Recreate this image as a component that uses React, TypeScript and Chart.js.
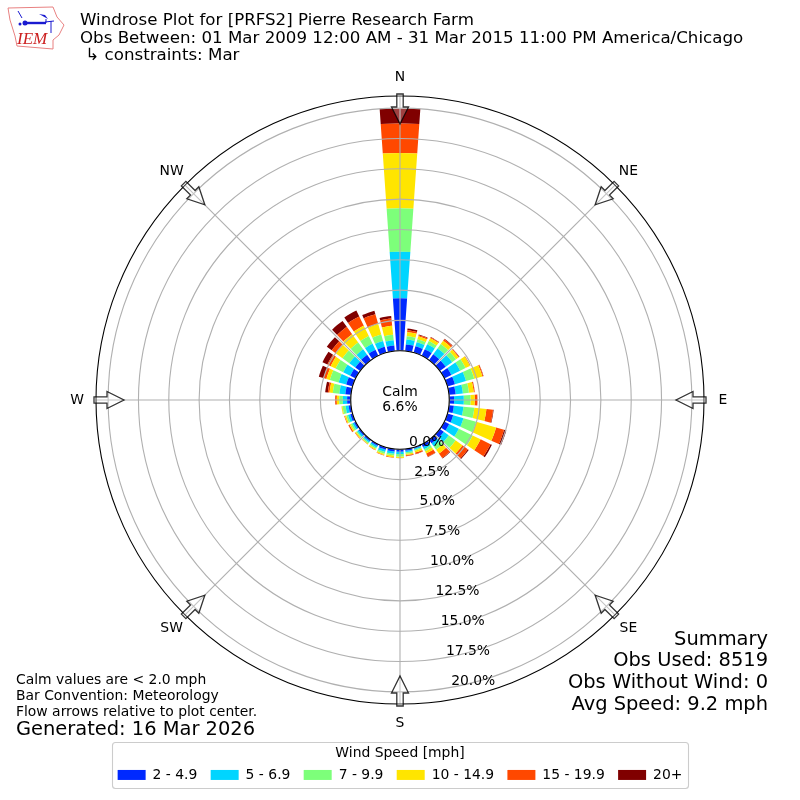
import React, { useEffect, useRef } from "react";
import { Chart, registerables, PolarAreaController } from "chart.js";

Chart.register(...registerables);

const FONT = "'DejaVu Sans'";

const directions = [0, 10, 20, 30, 40, 50, 60, 70, 80, 90, 100, 110, 120, 130, 140, 150, 160, 170, 180, 190, 200, 210, 220, 230, 240, 250, 260, 270, 280, 290, 300, 310, 320, 330, 340, 350];
const speed2to5 = [4.32, .55, .55, .6, .6, .6, .65, .65, .55, .4, .4, .5, .45, .4, .35, .25, .1, .15, .2, .2, .2, .15, .15, .15, .15, .2, .2, .3, .47, .55, .5, .5, .55, .55, .5, .45];
const speed5to7 = [3.85, .41, .35, .45, .6, .65, .8, .95, .6, .8, .8, .88, .88, .5, .3, .2, .1, .12, .2, .2, .2, .15, .12, .15, .15, .2, .25, .35, .49, .65, .65, .6, .55, .55, .5, .45];
const speed7to10 = [3.57, .27, .25, .3, .45, .4, .5, .7, .5, .55, .9, 1.09, 1.27, .7, .35, .2, .1, .12, .2, .15, .15, .12, .1, .1, .15, .15, .25, .3, .55, .75, .7, .7, .7, .7, .55, .45];
const speed10to15 = [4.56, .33, .25, .25, .33, .25, .4, .7, .4, .35, 1.0, 1.71, .73, .7, .4, .2, .15, .12, .12, .13, .1, .1, .07, .1, .12, .12, .08, .2, .27, .3, .45, .7, .85, .95, .9, .75];
const speed15to20 = [2.44, .16, .1, .08, .15, .07, .03, .08, .08, .22, .55, .68, .91, .55, .45, .3, .12, .07, .02, .05, .05, .03, .03, .05, .1, .05, .01, .13, .14, .25, .3, .4, .75, .85, .85, .6];
const speed20plus = [1.26, .14, .05, .03, .05, .03, .02, .02, .01, .01, .05, .2, .13, .09, .05, .03, .02, .02, 0, 0, 0, 0, 0, 0, .01, 0, 0, .02, .22, .4, .45, .5, .6, .55, .3, .2];

const speedLabels = ["2 - 4.9", "5 - 6.9", "7 - 9.9", "10 - 14.9", "15 - 19.9", "20+"];
const speedColors = ["#0029ff", "#00d5ff", "#7dff7a", "#ffe500", "#ff4800", "#800000"];
const speedSeries = [speed2to5, speed5to7, speed7to10, speed10to15, speed15to20, speed20plus];

const radialTicks = [0, 2.5, 5, 7.5, 10, 12.5, 15, 17.5, 20];
const radialTickLabels = ["0.0%", "2.5%", "5.0%", "7.5%", "10.0%", "12.5%", "15.0%", "17.5%", "20.0%"];
const compassAngles = [0, 45, 90, 135, 180, 225, 270, 315];
const compassLabels = ["N", "NE", "E", "SE", "S", "SW", "W", "NW"];

const titleLines = [
  "Windrose Plot for [PRFS2] Pierre Research Farm",
  "Obs Between: 01 Mar 2009 12:00 AM - 31 Mar 2015 11:00 PM America/Chicago",
  " \u21b3 constraints: Mar",
];
const summaryLines = ["Summary", "Obs Used: 8519", "Obs Without Wind: 0", "Avg Speed: 9.2 mph"];
const noteLines = ["Calm values are < 2.0 mph", "Bar Convention: Meteorology", "Flow arrows relative to plot center."];
const generatedLine = "Generated: 16 Mar 2026";
const calmLines = ["Calm", "6.6%"];

const BAR_DEG = 8;
const GAP_DEG = 2;

const labels: string[] = [];
directions.forEach((d) => labels.push(String(d), String(d) + " gap"));

// Top edge of one speed class in every direction, each direction followed by its empty gap slot.
function cumulative(level: number): number[] {
  const out: number[] = [];
  directions.forEach((_, i) => {
    let sum = 0;
    for (let s = 0; s <= level; s++) sum += speedSeries[s][i];
    out.push(sum, 0);
  });
  return out;
}

// Polar area whose arcs start at the top of the class below, not at the centre.
class StackedPolarController extends (PolarAreaController as any) {
  static id = "stackedPolar";
  updateElements(arcs: any[], start: number, count: number, mode: any) {
    (PolarAreaController.prototype as any).updateElements.call(this, arcs, start, count, mode);
    const me = this as any;
    const scale = me._cachedMeta.rScale;
    const base: number[] = me.getDataset().base;
    for (let i = start; i < start + count; i++) {
      arcs[i].innerRadius = scale.getDistanceFromCenterForValue(base[i]);
    }
  }
}
Chart.register(StackedPolarController as any);

function text(ctx: CanvasRenderingContext2D, s: string, x: number, y: number, size: number, align: CanvasTextAlign = "left", baseline: CanvasTextBaseline = "middle", font = FONT) {
  ctx.font = `${size}px ${font}`;
  ctx.textAlign = align;
  ctx.textBaseline = baseline;
  ctx.fillStyle = "#000";
  ctx.fillText(s, x, y);
}

function drawLogo(ctx: CanvasRenderingContext2D) {
  ctx.save();
  ctx.strokeStyle = "#e88080";
  ctx.lineWidth = 1;
  ctx.beginPath();
  const outline = [[8, 8], [53, 7], [57, 17], [64, 25], [59, 35], [53, 40], [53, 49], [17, 46], [15, 36], [10, 20]];
  outline.forEach(([x, y], i) => (i ? ctx.lineTo(x, y) : ctx.moveTo(x, y)));
  ctx.closePath();
  ctx.stroke();
  ctx.strokeStyle = "#1a1ad0";
  ctx.fillStyle = "#1a1ad0";
  ctx.lineWidth = 2.4;
  ctx.beginPath();
  ctx.moveTo(26, 23);
  ctx.lineTo(46, 23);
  ctx.stroke();
  ctx.lineWidth = 1;
  ctx.beginPath();
  ctx.moveTo(18, 11);
  ctx.lineTo(22, 18);
  ctx.moveTo(45, 22);
  ctx.lineTo(54, 21);
  ctx.moveTo(46, 23);
  ctx.lineTo(46, 19);
  ctx.moveTo(51, 21);
  ctx.lineTo(51, 33);
  ctx.stroke();
  ctx.beginPath();
  ctx.moveTo(39, 14);
  ctx.lineTo(45, 15);
  ctx.lineTo(48, 19);
  ctx.closePath();
  ctx.fill();
  ctx.beginPath();
  ctx.arc(25, 23, 2.5, 0, Math.PI * 2);
  ctx.fill();
  ctx.beginPath();
  ctx.arc(20, 24, 1.5, 0, Math.PI * 2);
  ctx.fill();
  ctx.restore();
  ctx.font = "italic 17px 'Liberation Serif'";
  ctx.textAlign = "left";
  ctx.textBaseline = "alphabetic";
  ctx.fillStyle = "#cc2020";
  ctx.fillText("IEM", 17, 44);
}

const windrosePlugin = {
  id: "windrose",
  afterDatasetsDraw(chart: any) {
    const scale = chart.scales.r;
    const ctx: CanvasRenderingContext2D = chart.ctx;
    const outer = scale.drawingArea;
    ctx.save();
    ctx.strokeStyle = "#b0b0b0";
    ctx.lineWidth = 1.1;
    compassAngles.forEach((deg) => {
      const a = (deg * Math.PI) / 180;
      ctx.beginPath();
      ctx.moveTo(scale.xCenter, scale.yCenter);
      ctx.lineTo(scale.xCenter + Math.sin(a) * outer, scale.yCenter - Math.cos(a) * outer);
      ctx.stroke();
    });
    ctx.restore();
  },
  afterDraw(chart: any) {
    const scale = chart.scales.r;
    const ctx: CanvasRenderingContext2D = chart.ctx;
    const cx = scale.xCenter;
    const cy = scale.yCenter;
    const outer = scale.drawingArea;
    const base = scale.getDistanceFromCenterForValue(0);

    ctx.save();
    ctx.fillStyle = "#fff";
    ctx.strokeStyle = "#000";
    ctx.lineWidth = 1.1;
    ctx.beginPath();
    ctx.arc(cx, cy, base, 0, Math.PI * 2);
    ctx.fill();
    ctx.stroke();
    ctx.beginPath();
    ctx.arc(cx, cy, outer, 0, Math.PI * 2);
    ctx.stroke();

    // flow arrows
    compassAngles.forEach((deg) => {
      ctx.save();
      ctx.translate(cx, cy);
      ctx.rotate((deg * Math.PI) / 180);
      const r0 = outer + 2;
      const r1 = outer - 11;
      const r2 = outer - 28;
      ctx.beginPath();
      ctx.moveTo(-3.2, -r0);
      ctx.lineTo(3.2, -r0);
      ctx.lineTo(3.2, -r1);
      ctx.lineTo(8.5, -r1);
      ctx.lineTo(0, -r2);
      ctx.lineTo(-8.5, -r1);
      ctx.lineTo(-3.2, -r1);
      ctx.closePath();
      ctx.fillStyle = "rgba(255,255,255,0.25)";
      ctx.fill();
      ctx.strokeStyle = "rgba(0,0,0,0.8)";
      ctx.lineWidth = 1.3;
      ctx.stroke();
      ctx.restore();
    });

    // compass labels
    compassAngles.forEach((deg, i) => {
      const a = (deg * Math.PI) / 180;
      const r = outer + 19;
      text(ctx, compassLabels[i], cx + Math.sin(a) * r, cy - Math.cos(a) * r, 13.9, "center");
    });

    // radial tick labels
    const tickA = (170 * Math.PI) / 180;
    radialTicks.forEach((v, i) => {
      const r = scale.getDistanceFromCenterForValue(v);
      text(ctx, radialTickLabels[i], cx + Math.sin(tickA) * r + 0.5, cy - Math.cos(tickA) * r + 0.6, 13.9, "left", "bottom");
    });

    text(ctx, calmLines[0], cx, cy - 7.5, 13.9, "center");
    text(ctx, calmLines[1], cx, cy + 7.5, 13.9, "center");

    titleLines.forEach((s, i) => text(ctx, s, 80, [21, 39, 56][i], 16.67));
    summaryLines.forEach((s, i) => text(ctx, s, 768, [640, 661, 683, 705][i], 19.44, "right"));
    noteLines.forEach((s, i) => text(ctx, s, 16, [680, 696, 712][i], 13.9));
    text(ctx, generatedLine, 16, 730, 19.44);

    // legend frame
    ctx.strokeStyle = "#cccccc";
    ctx.lineWidth = 1.1;
    ctx.beginPath();
    ctx.roundRect(112.5, 742.5, 576, 46, 3);
    ctx.stroke();
    ctx.restore();

    drawLogo(ctx);
  },
};

export default function App() {
  const ref = useRef<HTMLCanvasElement | null>(null);
  useEffect(() => {
    if (!ref.current) return;
    Chart.defaults.font.family = FONT;
    const chart = new Chart(ref.current, {
      type: "stackedPolar",
      data: {
        labels,
        datasets: speedLabels.map((label, level) => ({
          label,
          data: cumulative(level),
          base: level === 0 ? labels.map(() => 0) : cumulative(level - 1),
          backgroundColor: speedColors[level],
          borderWidth: 0,
          angle: labels.map((_, i) => (i % 2 === 0 ? BAR_DEG : GAP_DEG)),
        })),
      } as any,
      options: {
        responsive: false,
        animation: false,
        devicePixelRatio: 1,
        layout: { padding: { top: 96, left: 0, right: 0, bottom: 8.1 } },
        scales: {
          r: {
            type: "radialLinear",
            min: -4.06,
            max: 21.0,
            startAngle: -BAR_DEG / 2,
            afterBuildTicks: (axis: any) => {
              axis.ticks = radialTicks.map((value) => ({ value }));
            },
            ticks: { display: false, stepSize: 2.5 },
            grid: { color: "#b0b0b0", lineWidth: 1.1, circular: true, z: 1 },
            angleLines: { display: false },
            pointLabels: { display: false },
          },
        },
        plugins: {
          tooltip: { enabled: false },
          legend: {
            display: true,
            position: "bottom",
            title: {
              display: true,
              text: "Wind Speed [mph]",
              color: "#000",
              font: { family: FONT, size: 13.9 },
              padding: { top: 42, bottom: -8 },
            },
            labels: {
              boxWidth: 28,
              boxHeight: 10,
              padding: 13.3,
              color: "#000",
              font: { family: FONT, size: 13.9 },
              generateLabels: () =>
                speedLabels.map((t, i) => ({ text: t, fillStyle: speedColors[i], strokeStyle: speedColors[i], lineWidth: 0, hidden: false, datasetIndex: i })),
            },
          },
        },
      } as any,
      plugins: [windrosePlugin],
    });
    return () => chart.destroy();
  }, []);
  return (
    <div style={{ position: "absolute", left: 0, top: 0, width: 800, height: 800 }}>
      <canvas ref={ref} width={800} height={800} style={{ display: "block" }} />
    </div>
  );
}
